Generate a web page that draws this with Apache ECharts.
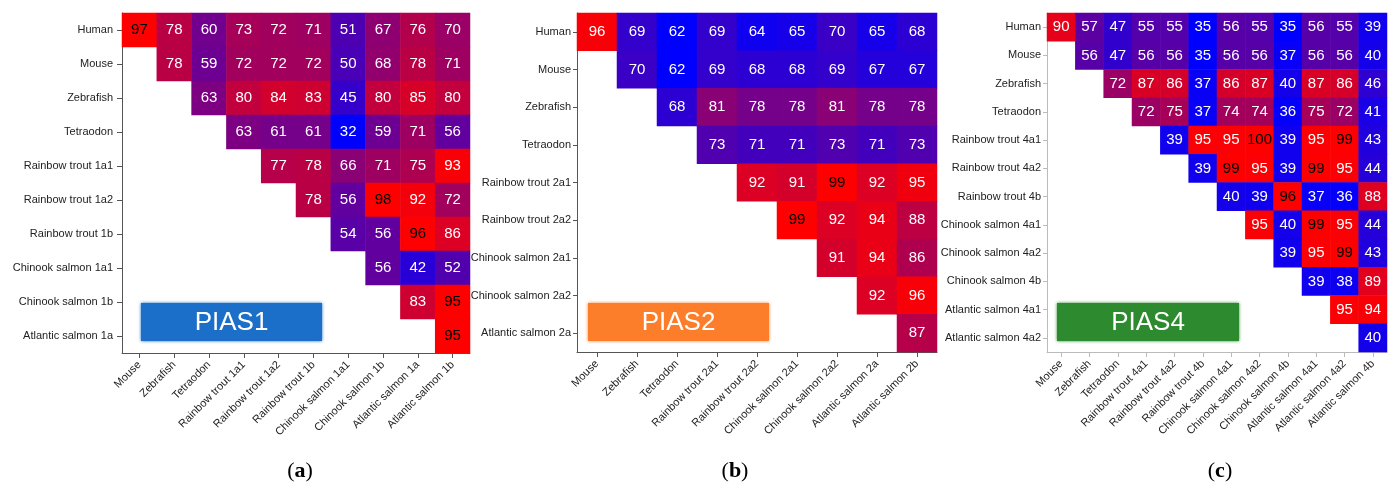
<!DOCTYPE html>
<html>
<head>
<meta charset="utf-8">
<script src="https://cdn.jsdelivr.net/npm/echarts@6/dist/echarts.min.js"></script>
<style>html,body{margin:0;padding:0;background:#fff}#c{width:1397px;height:486px}</style>
</head>
<body>
<div id="c"></div>
<script>
// ---------- DATA ----------
const rowsA = ['Human','Mouse','Zebrafish','Tetraodon','Rainbow trout 1a1','Rainbow trout 1a2','Rainbow trout 1b','Chinook salmon 1a1','Chinook salmon 1b','Atlantic salmon 1a'];
const colsA = ['Mouse','Zebrafish','Tetraodon','Rainbow trout 1a1','Rainbow trout 1a2','Rainbow trout 1b','Chinook salmon 1a1','Chinook salmon 1b','Atlantic salmon 1a','Atlantic salmon 1b'];
const valsA = [
  [97,78,60,73,72,71,51,67,76,70],
  [78,59,72,72,72,50,68,78,71],
  [63,80,84,83,45,80,85,80],
  [63,61,61,32,59,71,56],
  [77,78,66,71,75,93],
  [78,56,98,92,72],
  [54,56,96,86],
  [56,42,52],
  [83,95],
  [95]
];

const rowsB = ['Human','Mouse','Zebrafish','Tetraodon','Rainbow trout 2a1','Rainbow trout 2a2','Chinook salmon 2a1','Chinook salmon 2a2','Atlantic salmon 2a'];
const colsB = ['Mouse','Zebrafish','Tetraodon','Rainbow trout 2a1','Rainbow trout 2a2','Chinook salmon 2a1','Chinook salmon 2a2','Atlantic salmon 2a','Atlantic salmon 2b'];
const valsB = [
  [96,69,62,69,64,65,70,65,68],
  [70,62,69,68,68,69,67,67],
  [68,81,78,78,81,78,78],
  [73,71,71,73,71,73],
  [92,91,99,92,95],
  [99,92,94,88],
  [91,94,86],
  [92,96],
  [87]
];

const rowsC = ['Human','Mouse','Zebrafish','Tetraodon','Rainbow trout 4a1','Rainbow trout 4a2','Rainbow trout 4b','Chinook salmon 4a1','Chinook salmon 4a2','Chinook salmon 4b','Atlantic salmon 4a1','Atlantic salmon 4a2'];
const colsC = ['Mouse','Zebrafish','Tetraodon','Rainbow trout 4a1','Rainbow trout 4a2','Rainbow trout 4b','Chinook salmon 4a1','Chinook salmon 4a2','Chinook salmon 4b','Atlantic salmon 4a1','Atlantic salmon 4a2','Atlantic salmon 4b'];
const valsC = [
  [90,57,47,55,55,35,56,55,35,56,55,39],
  [56,47,56,56,35,56,56,37,56,56,40],
  [72,87,86,37,86,87,40,87,86,46],
  [72,75,37,74,74,36,75,72,41],
  [39,95,95,100,39,95,99,43],
  [39,99,95,39,99,95,44],
  [40,39,96,37,36,88],
  [95,40,99,95,44],
  [39,95,99,43],
  [39,38,89],
  [95,94],
  [40]
];

const panelNames = ['PIAS1','PIAS2','PIAS4'];
const captionLetters = ['a','b','c'];

// ---------- STYLE / LAYOUT ----------
const panels = [
  {rows: rowsA, cols: colsA, vals: valsA, grid:{left:122, top:13, width:348, height:340}, vmin:32, vmax:95, black:95, axisColor:'#555', ytick:5, ymargin:9, box:{x:141,y:303,w:181,h:38,color:'#1c6fc8'}, cap:300},
  {rows: rowsB, cols: colsB, vals: valsB, grid:{left:577, top:13, width:360, height:339}, vmin:62, vmax:97, black:99, axisColor:'#555', ytick:4, ymargin:6, box:{x:588,y:303,w:181,h:38,color:'#fd7e2a'}, cap:735},
  {rows: rowsC, cols: colsC, vals: valsC, grid:{left:1047, top:13, width:340, height:339}, vmin:35, vmax:96, black:96, axisColor:'#bbb', ytick:4, ymargin:6, box:{x:1057,y:303,w:182,h:38,color:'#2e8a2f'}, cap:1220}
];

const labelFont = "'Liberation Sans',Arial,sans-serif";
const grids = [], xAxes = [], yAxes = [], series = [], visualMaps = [], graphics = [];

panels.forEach((p, k) => {
  grids.push(Object.assign({containLabel:false}, p.grid));
  xAxes.push({
    type:'category', gridIndex:k, data:p.cols, position:'bottom',
    axisLine:{show:true, lineStyle:{color:p.axisColor, width:1}},
    axisTick:{show:true, alignWithLabel:true, length:5, lineStyle:{color:p.axisColor}},
    axisLabel:{rotate:45, interval:0, margin:10, fontSize:11, fontFamily:labelFont, color:'#222'},
    splitLine:{show:false}, splitArea:{show:false}
  });
  yAxes.push({
    type:'category', gridIndex:k, data:p.rows, inverse:true,
    axisLine:{show:true, lineStyle:{color:p.axisColor, width:1}},
    axisTick:{show:true, alignWithLabel:true, length:p.ytick, lineStyle:{color:p.axisColor}},
    axisLabel:{interval:0, margin:p.ymargin, fontSize:11, fontFamily:labelFont, color:'#222'},
    splitLine:{show:false}, splitArea:{show:false}
  });
  const data = [];
  p.vals.forEach((row, i) => {
    row.forEach((v, j) => {
      data.push({value:[i + j, i, v], label:{color: v >= p.black ? '#000' : '#fff'}});
    });
  });
  series.push({
    type:'heatmap', xAxisIndex:k, yAxisIndex:k, data:data,
    label:{show:true, fontSize:15, fontFamily:"'Liberation Sans',Arial,sans-serif", formatter:(d)=>d.value[2]},
    itemStyle:{borderWidth:0},
    emphasis:{disabled:true}
  });
  visualMaps.push({
    type:'continuous', show:false, seriesIndex:k, dimension:2,
    min:p.vmin, max:p.vmax, inRange:{color:['#0000ff','#ff0000']}
  });
  graphics.push({
    type:'rect', shape:{x:p.box.x, y:p.box.y, width:p.box.w, height:p.box.h},
    style:{fill:p.box.color, shadowBlur:3, shadowColor:p.box.color}, z:100
  });
  graphics.push({
    type:'text', x:p.box.x + p.box.w/2, y:p.box.y + p.box.h/2 + 1, z:101,
    style:{text:panelNames[k], fill:'#fff', font:"26px 'Liberation Sans',Arial,sans-serif", align:'center', verticalAlign:'middle'}
  });
  graphics.push({
    type:'text', x:p.cap, y:471, z:101,
    style:{
      text:'{p|(}{l|' + captionLetters[k] + '}{p|)}', align:'center', verticalAlign:'middle',
      rich:{
        p:{font:"22px 'Liberation Serif','DejaVu Serif',serif", fill:'#000'},
        l:{font:"bold 22px 'Liberation Serif','DejaVu Serif',serif", fill:'#000'}
      }
    }
  });
});

const chart = echarts.init(document.getElementById('c'), null, {renderer:'canvas'});
chart.setOption({
  animation:false,
  backgroundColor:'#fff',
  grid:grids, xAxis:xAxes, yAxis:yAxes, visualMap:visualMaps, series:series, graphic:graphics
});
</script>
</body>
</html>
